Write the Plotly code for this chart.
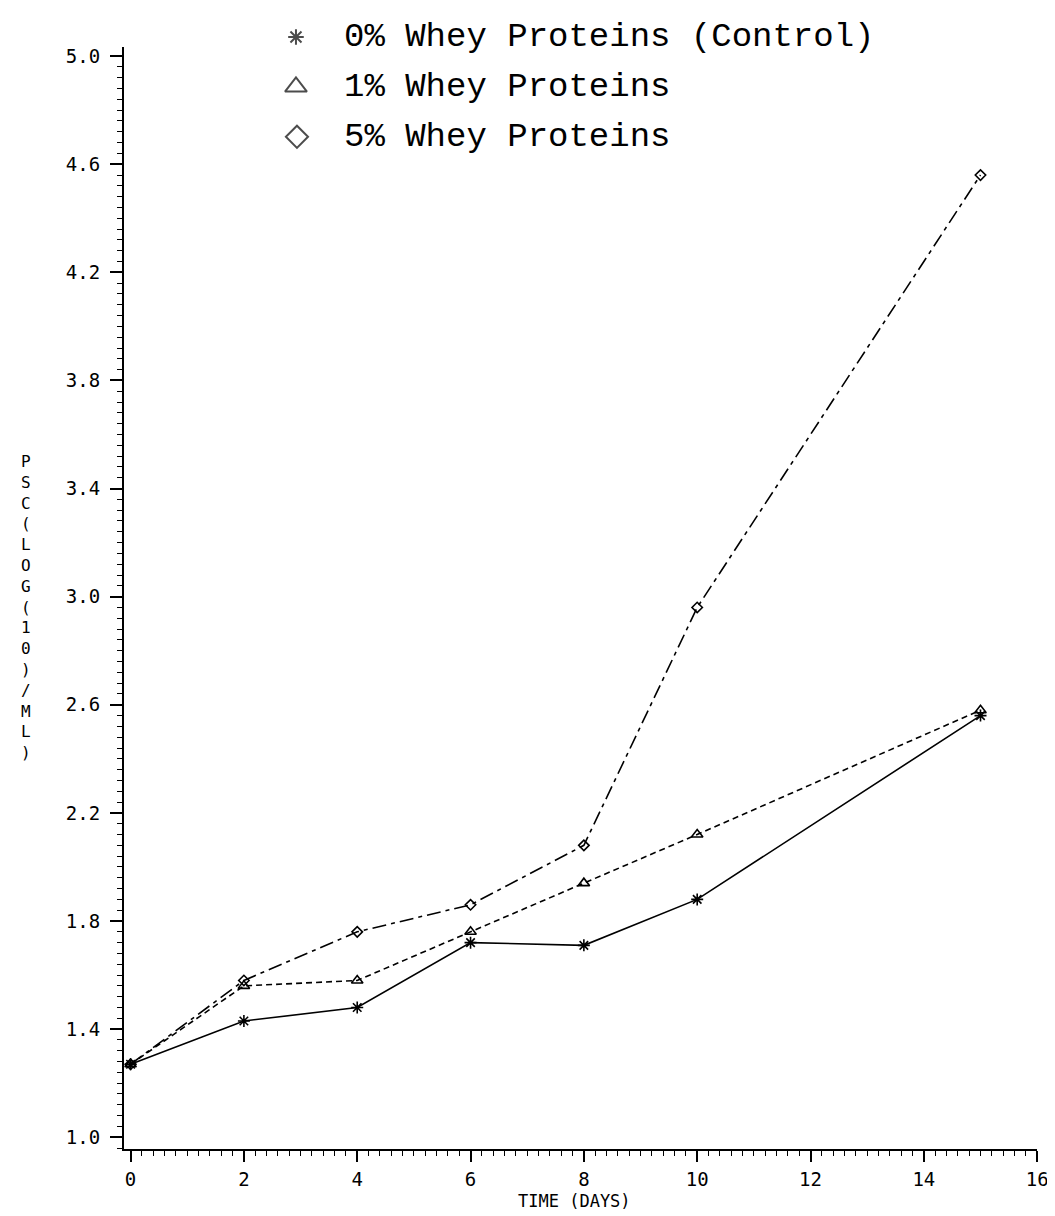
import plotly.graph_objects as go

# ---- data ----
days = [0, 2, 4, 6, 8, 10, 15]
control_0pct = [1.27, 1.43, 1.48, 1.72, 1.71, 1.88, 2.56]
whey_1pct = [1.27, 1.56, 1.58, 1.76, 1.94, 2.12, 2.58]
whey_5pct = [1.27, 1.58, 1.76, 1.86, 2.08, 2.96, 4.56]

series_names = ["0% Whey Proteins (Control)", "1% Whey Proteins", "5% Whey Proteins"]
x_ticks = [0, 2, 4, 6, 8, 10, 12, 14, 16]
y_ticks = [1.0, 1.4, 1.8, 2.2, 2.6, 3.0, 3.4, 3.8, 4.2, 4.6, 5.0]
y_title = "PSC(LOG(10)/ML)"
x_title = "TIME (DAYS)"

# ---- layout constants ----
W, H = 1055, 1216
PX_L, PX_R = 117, 1040      # plot area in pixels
PX_T, PX_B = 37, 1141
INK = "black"
CLEAR = "rgba(0,0,0,0)"
tick_font = dict(family="DejaVu Sans Mono", size=19, color=INK)

fig = go.Figure()

styles = [
    dict(dash="solid", symbol="asterisk-open", size=10),
    dict(dash="6px,4px", symbol="triangle-up-open", size=10),
    dict(dash="14px,5px,4px,5px", symbol="diamond-open", size=8),
]
series = [control_0pct, whey_1pct, whey_5pct]

# ---- legend drawn on an overlay axis spanning the whole figure (pixel units) ----
leg_sym_x = [291, 291, 292]
leg_row_y = [27, 77, 127]
leg_text_x = 338
leg_sizes = [13, 19, 17]
fig.add_trace(go.Scatter(
    x=leg_sym_x, y=leg_row_y, mode="markers", showlegend=False, hoverinfo="skip",
    marker=dict(symbol=[s["symbol"] for s in styles], size=leg_sizes, color=INK,
                line=dict(color=INK, width=2)),
    xaxis="x2", yaxis="y2",
))

for vals, st, name in reversed(list(zip(series, styles, series_names))):
    fig.add_trace(go.Scatter(
        x=days, y=vals, mode="lines+markers", name=name, showlegend=False,
        line=dict(color=INK, width=1.6, dash=st["dash"]),
        marker=dict(symbol=st["symbol"], size=st["size"], color=INK,
                    line=dict(color=INK, width=1.6)),
        xaxis="x", yaxis="y", cliponaxis=False,
    ))

for name, ry in zip(series_names, leg_row_y):
    fig.add_annotation(
        text=name, xref="paper", yref="paper", x=leg_text_x / W, y=1 - ry / H,
        xanchor="left", yanchor="middle", showarrow=False,
        font=dict(family="Liberation Mono", size=34, color=INK),
    )

# ---- axis titles ----
fig.add_annotation(
    text="<br>".join(list(y_title)), xref="paper", yref="paper",
    x=18 / W, y=1 - 598 / H, xanchor="center", yanchor="middle", showarrow=False,
    font=dict(family="DejaVu Sans Mono", size=16, color=INK), align="center",
)
fig.add_annotation(
    text=x_title, xref="paper", yref="paper",
    x=572 / W, y=1 - 1193 / H, xanchor="center", yanchor="middle", showarrow=False,
    font=dict(family="DejaVu Sans Mono", size=17, color=INK),
)

fig.update_layout(
    width=W, height=H,
    margin=dict(l=0, r=0, t=0, b=0),
    paper_bgcolor="white", plot_bgcolor=CLEAR,
    showlegend=False,
    xaxis=dict(
        domain=[PX_L / W, PX_R / W], anchor="y",
        range=[-0.12, 16.0], tickvals=x_ticks, ticktext=[str(v) for v in x_ticks],
        showline=True, linecolor=INK, linewidth=1.8, mirror=False,
        ticks="outside", ticklen=11, tickwidth=1.8, tickcolor=INK,
        minor=dict(dtick=0.2, tick0=0, ticks="outside", ticklen=5, tickwidth=1.3, tickcolor=INK),
        showgrid=False, zeroline=False, tickfont=tick_font, ticklabelstandoff=1,
    ),
    yaxis=dict(
        domain=[1 - PX_B / H, 1 - PX_T / H], anchor="x",
        range=[0.956, 5.034], tickvals=y_ticks, ticktext=[f"{v:.1f}" for v in y_ticks],
        showline=True, linecolor=INK, linewidth=1.8,
        ticks="outside", ticklen=12, tickwidth=1.8, tickcolor=INK,
        minor=dict(dtick=0.04, tick0=1.0, ticks="outside", ticklen=5, tickwidth=1.3, tickcolor=INK),
        showgrid=False, zeroline=False, tickfont=tick_font, ticklabelstandoff=6,
    ),
    xaxis2=dict(domain=[0, 1], anchor="y2", range=[0, W], visible=False, fixedrange=True),
    yaxis2=dict(domain=[0, 1], anchor="x2", range=[H, 0], visible=False, fixedrange=True),
)

fig.write_html("out.html")
